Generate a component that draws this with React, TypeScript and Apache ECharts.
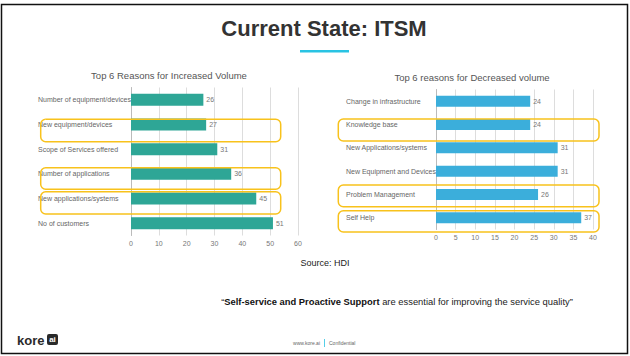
import React, { useEffect, useRef } from "react";
import * as echarts from "echarts";

const leftTitle = "Top 6 Reasons for Increased Volume";
const leftCategories = [
  "Number of equipment/devices",
  "New equipment/devices",
  "Scope of Services offered",
  "Number of applications",
  "New applications/systems",
  "No of customers",
];
const leftValues = [26, 27, 31, 36, 45, 51];

const rightTitle = "Top 6 reasons for Decreased volume";
const rightCategories = [
  "Change in infrastructure",
  "Knowledge base",
  "New Applications/systems",
  "New Equipment and Devices",
  "Problem Management",
  "Self Help",
];
const rightValues = [24, 24, 31, 31, 26, 37];

const leftAxisMax = 60;
const leftAxisStep = 10;
const rightAxisMax = 40;
const rightAxisStep = 5;

const FONT = "'Liberation Sans', Arial, sans-serif";

export default function App() {
  const ref = useRef<HTMLDivElement>(null);
  useEffect(() => {
    if (!ref.current) return;
    const chart = echarts.init(ref.current, undefined, { renderer: "svg" });
    const box = (x: number, y: number, w: number, h: number) => ({
      type: "rect",
      shape: { x, y, width: w, height: h, r: 5 },
      style: { fill: "none", stroke: "#F8C21C", lineWidth: 1.5 },
      z: 10,
    });
    const axisLabelStyle = { fontSize: 7, color: "#777", fontFamily: FONT };
    chart.setOption({
      animation: false,
      backgroundColor: "#fff",
      textStyle: { fontFamily: FONT },
      grid: [
        { left: 131, top: 87.5, width: 167, height: 148 },
        { left: 436, top: 89.5, width: 157, height: 140 },
      ],
      xAxis: [
        {
          gridIndex: 0,
          type: "value",
          min: 0,
          max: leftAxisMax,
          interval: leftAxisStep,
          axisLine: { show: false },
          axisTick: { show: false },
          axisLabel: { ...axisLabelStyle, margin: 4 },
          splitLine: { lineStyle: { color: "#ddd", width: 1 } },
        },
        {
          gridIndex: 1,
          type: "value",
          min: 0,
          max: rightAxisMax,
          interval: rightAxisStep,
          axisLine: { show: false },
          axisTick: { show: false },
          axisLabel: { ...axisLabelStyle, margin: 4 },
          splitLine: { lineStyle: { color: "#ddd", width: 1 } },
        },
      ],
      yAxis: [
        {
          gridIndex: 0,
          type: "category",
          inverse: true,
          data: leftCategories,
          axisLine: { show: true, lineStyle: { color: "#bbb" } },
          axisTick: { show: false },
          axisLabel: { ...axisLabelStyle, color: "#666", align: "left", margin: 93 },
        },
        {
          gridIndex: 1,
          type: "category",
          inverse: true,
          data: rightCategories,
          axisLine: { show: true, lineStyle: { color: "#bbb" } },
          axisTick: { show: false },
          axisLabel: { ...axisLabelStyle, color: "#666", align: "left", margin: 90 },
        },
      ],
      series: [
        {
          type: "bar",
          xAxisIndex: 0,
          yAxisIndex: 0,
          data: leftValues,
          barWidth: 12,
          itemStyle: { color: "#2EA696" },
          label: { show: true, position: "right", distance: 3, fontSize: 7, color: "#777", fontFamily: FONT },
        },
        {
          type: "bar",
          xAxisIndex: 1,
          yAxisIndex: 1,
          data: rightValues,
          barWidth: 11,
          itemStyle: { color: "#3BAEDB" },
          label: { show: true, position: "right", distance: 3, fontSize: 7, color: "#777", fontFamily: FONT },
        },
      ],
      graphic: [
        {
          type: "rect",
          shape: { x: 1.5, y: 4.5, width: 626, height: 349 },
          style: { fill: "none", stroke: "#111", lineWidth: 1.5 },
        },
        {
          type: "text",
          x: 324,
          y: 28,
          style: {
            text: "Current State: ITSM",
            fontSize: 22,
            fontWeight: "bold",
            fill: "#333",
            fontFamily: FONT,
            align: "center",
            verticalAlign: "middle",
          },
        },
        {
          type: "rect",
          shape: { x: 300, y: 50, width: 49, height: 2.5 },
          style: { fill: "#29C3E3" },
        },
        {
          type: "text",
          x: 169,
          y: 75,
          style: { text: leftTitle, fontSize: 9.5, fill: "#555", fontFamily: FONT, align: "center", verticalAlign: "middle" },
        },
        {
          type: "text",
          x: 472,
          y: 77,
          style: { text: rightTitle, fontSize: 9.5, fill: "#555", fontFamily: FONT, align: "center", verticalAlign: "middle" },
        },
        box(40.7, 119.3, 240, 22.4),
        box(40.7, 167.7, 240, 21.6),
        box(40.7, 191.7, 240, 22.3),
        box(338.3, 119, 260.7, 22),
        box(338.3, 185, 260.7, 21.7),
        box(338.3, 210.7, 260.7, 21.3),
        {
          type: "text",
          x: 325,
          y: 263,
          style: { text: "Source: HDI", fontSize: 9, fill: "#222", fontFamily: FONT, align: "center", verticalAlign: "middle" },
        },
        {
          type: "text",
          x: 397,
          y: 301,
          style: {
            text: "{q|\u201C}{b|Self-service and Proactive Support}{n| are essential for improving the service quality\u201D}",
            align: "center",
            verticalAlign: "middle",
            rich: {
              q: { fontSize: 9.4, fill: "#222", fontFamily: FONT },
              b: { fontSize: 9.4, fill: "#111", fontWeight: "bold", fontFamily: FONT },
              n: { fontSize: 9.4, fill: "#222", fontFamily: FONT },
            },
          },
        },
        {
          type: "text",
          x: 17,
          y: 340,
          style: { text: "kore", fontSize: 13, fontWeight: "bold", fill: "#2a2a2a", fontFamily: FONT, verticalAlign: "middle" },
        },
        {
          type: "rect",
          shape: { x: 47, y: 334, width: 11, height: 11, r: 2 },
          style: { fill: "#2a2a2a" },
        },
        {
          type: "text",
          x: 52.5,
          y: 339.5,
          style: { text: "ai", fontSize: 8, fontWeight: "bold", fill: "#fff", fontFamily: FONT, align: "center", verticalAlign: "middle" },
        },
        {
          type: "text",
          x: 320,
          y: 343,
          style: { text: "www.kore.ai", fontSize: 5, fill: "#666", fontFamily: FONT, align: "right", verticalAlign: "middle" },
        },
        {
          type: "rect",
          shape: { x: 324, y: 339, width: 0.8, height: 8 },
          style: { fill: "#29C3E3" },
        },
        {
          type: "text",
          x: 329,
          y: 343,
          style: { text: "Confidential", fontSize: 5, fill: "#666", fontFamily: FONT, align: "left", verticalAlign: "middle" },
        },
      ],
    });
    return () => chart.dispose();
  }, []);
  return (
    <div
      ref={ref}
      style={{ position: "fixed", left: 0, top: 0, width: 630, height: 356 }}
    />
  );
}
